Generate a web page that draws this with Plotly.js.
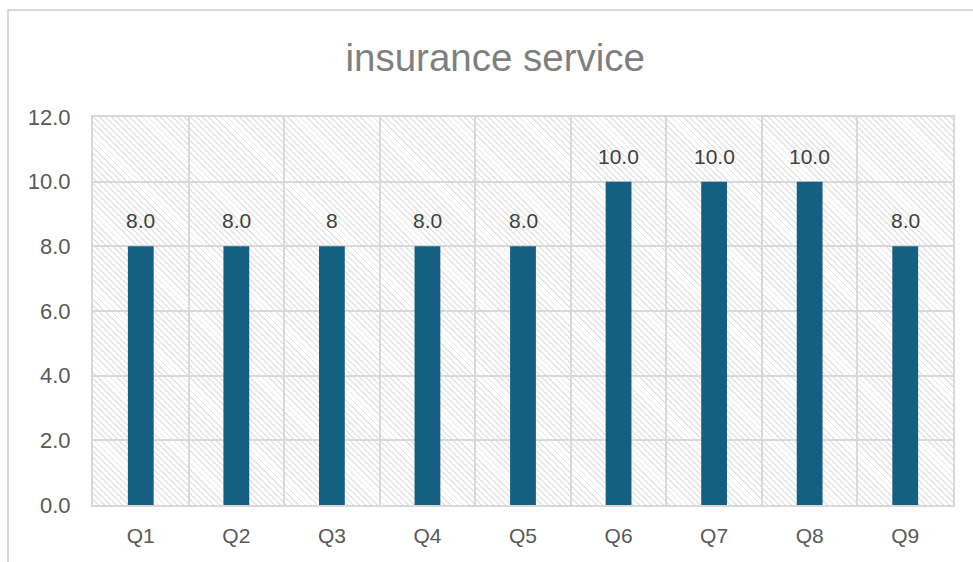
<!DOCTYPE html>
<html>
<head>
<meta charset="utf-8">
<script src="https://cdn.plot.ly/plotly-3.0.1.min.js"></script>
<style>
  html, body { margin: 0; padding: 0; background: #ffffff; }
  #wrap { position: relative; width: 973px; height: 562px; overflow: hidden; }
  #frame { position: absolute; left: 7px; top: 9px; width: 1100px; height: 700px;
           border: 2px solid #d9d9d9; box-sizing: border-box; }
  #hatch { position: absolute; left: 93px; top: 117px; width: 860px; height: 388px;
           background: repeating-linear-gradient(45deg, #ffffff 0px, #ffffff 3px, #e4e4e4 3px, #e4e4e4 4.3px); }
  #chart { position: absolute; left: 0; top: 0; width: 973px; height: 562px; }
</style>
</head>
<body>
<div id="wrap">
  <div id="frame"></div>
  <div id="hatch"></div>
  <div id="chart"></div>
</div>
<script>
const categories = ["Q1", "Q2", "Q3", "Q4", "Q5", "Q6", "Q7", "Q8", "Q9"];
const values = [8, 8, 8, 8, 8, 10, 10, 10, 8];
const labels = ["8.0", "8.0", "8", "8.0", "8.0", "10.0", "10.0", "10.0", "8.0"];
const yTicks = [0, 2, 4, 6, 8, 10, 12];

const FONT = "Liberation Sans, Arial, sans-serif";

const trace = {
  type: "bar",
  x: categories,
  y: values,
  width: 0.27,
  marker: { color: "#156082" },
  hoverinfo: "x+y"
};

const annotations = categories.map((c, i) => ({
  x: c,
  y: values[i],
  xref: "x",
  yref: "y",
  text: labels[i],
  showarrow: false,
  yanchor: "bottom",
  yshift: 12,
  font: { family: FONT, size: 21, color: "#404040" }
}));

const layout = {
  width: 973,
  height: 562,
  margin: { l: 93, r: 20, t: 117, b: 57 },
  paper_bgcolor: "rgba(0,0,0,0)",
  plot_bgcolor: "rgba(0,0,0,0)",
  showlegend: false,
  font: { family: FONT, color: "#595959" },
  title: {
    text: "insurance service",
    font: { family: FONT, size: 38.5, color: "#7f7f7f" },
    x: 0.509, xanchor: "center",
    y: 1 - 58 / 562, yref: "container", yanchor: "middle"
  },
  xaxis: {
    type: "category",
    tickson: "boundaries",
    showgrid: true,
    gridcolor: "#d9d9d9",
    gridwidth: 2,
    showline: true,
    linecolor: "#d9d9d9",
    linewidth: 2,
    mirror: true,
    ticks: "",
    tickfont: { size: 21, color: "#595959" },
    ticklabelstandoff: 11,
    fixedrange: true
  },
  yaxis: {
    range: [0, 12],
    tickvals: yTicks,
    tickformat: ".1f",
    showgrid: true,
    gridcolor: "#d9d9d9",
    gridwidth: 2,
    zeroline: false,
    showline: true,
    linecolor: "#d9d9d9",
    linewidth: 2,
    mirror: true,
    ticks: "",
    tickfont: { size: 22, color: "#595959" },
    ticklabelstandoff: 16,
    fixedrange: true
  },
  annotations: annotations,
  bargap: 0.73
};

Plotly.newPlot("chart", [trace], layout, { displayModeBar: false, staticPlot: true });
</script>
</body>
</html>
